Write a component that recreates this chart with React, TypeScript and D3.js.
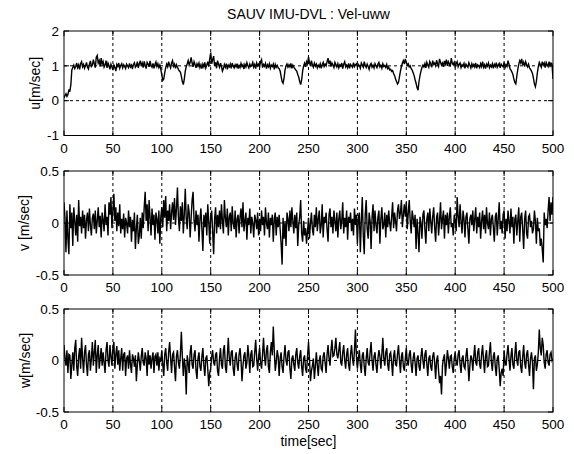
import React from 'react';
import * as d3 from 'd3';

// sampling step of the series below (seconds)
const T_STEP = 1;

const timeTicks = [0, 50, 100, 150, 200, 250, 300, 350, 400, 450, 500];
const uTicks = [-1, 0, 1, 2];
const vwTicks = [-0.5, 0, 0.5];

const uVel = [
  0.08,0.15,0.20,0.12,0.18,0.30,0.28,0.45,0.88,0.95,1.02,0.92,0.98,1.08,0.95,1.03,0.90,1.06,1.12,0.97,
  1.04,0.93,1.00,1.10,0.96,0.91,1.05,1.14,0.98,1.02,1.18,1.06,0.95,1.25,1.30,1.08,1.15,0.98,1.22,1.05,
  1.12,0.96,1.02,1.15,0.94,1.08,1.00,0.90,1.05,0.97,0.88,1.02,0.95,0.85,1.04,0.98,1.08,0.93,1.01,1.06,
  0.94,1.03,0.98,0.92,1.05,1.00,0.95,1.07,0.97,1.02,0.91,1.04,1.09,0.96,1.00,1.12,0.94,1.06,1.15,0.99,
  1.08,0.95,1.13,1.02,0.92,1.10,1.05,0.97,1.14,1.01,0.96,1.07,0.93,1.04,1.11,0.98,1.06,0.95,1.02,0.90,
  0.75,0.58,0.62,0.80,0.95,1.05,0.97,1.12,1.02,0.94,1.08,1.15,0.99,1.05,0.93,1.03,0.96,0.90,0.85,0.82,
  0.70,0.55,0.46,0.62,0.85,0.98,1.06,1.15,1.02,1.10,1.24,1.08,0.97,1.12,1.04,0.94,1.06,0.99,1.08,0.95,
  1.03,0.92,1.05,0.97,1.10,0.94,1.02,1.12,0.98,1.20,1.38,1.06,1.18,1.28,1.00,1.10,0.93,1.15,1.04,0.96,
  1.08,0.98,0.85,0.92,1.04,0.96,1.06,0.90,1.02,0.97,1.05,0.93,1.08,0.99,0.94,1.03,0.97,1.06,0.92,1.01,
  0.95,1.07,0.98,1.03,0.91,1.04,0.97,1.09,1.00,0.94,1.05,0.98,1.02,1.10,0.96,1.04,0.92,1.08,1.00,1.05,
  0.97,1.12,1.18,0.95,1.04,0.99,1.07,0.92,1.03,0.97,1.06,0.93,1.02,0.98,1.05,0.90,1.04,0.96,1.01,0.94,
  0.92,0.85,0.70,0.55,0.50,0.65,0.88,1.00,1.05,0.96,1.03,0.97,1.07,0.93,1.02,0.96,0.92,0.88,0.85,0.75,
  0.68,0.55,0.46,0.60,0.85,1.00,1.08,0.97,1.12,1.05,1.26,1.10,1.00,1.15,1.03,0.96,1.08,0.99,1.05,0.94,
  1.02,0.97,1.06,0.93,1.04,1.10,0.98,1.05,1.00,1.12,1.22,1.05,1.15,0.98,1.08,1.02,0.95,1.10,1.04,0.97,
  1.06,0.94,1.03,0.99,1.08,0.92,1.05,1.12,0.97,1.02,0.95,1.07,0.93,1.04,1.00,0.96,1.09,0.98,1.03,1.06,
  0.97,1.04,1.00,0.93,1.08,1.02,0.96,1.12,1.01,0.95,1.05,0.98,0.90,1.03,1.07,0.96,1.02,0.94,1.06,1.00,
  0.95,1.05,1.10,0.97,1.02,0.93,1.06,0.98,1.01,0.95,1.04,0.92,0.96,0.88,0.90,0.84,0.86,0.78,0.72,0.62,
  0.55,0.48,0.52,0.68,0.85,0.98,1.08,1.15,1.05,1.20,1.10,1.02,1.06,0.97,1.00,0.92,0.88,0.80,0.72,0.60,
  0.50,0.38,0.30,0.55,0.72,0.85,0.95,1.02,0.97,1.06,0.94,1.10,1.02,0.96,1.12,1.05,0.99,1.15,1.04,1.08,
  1.00,1.16,1.05,0.98,1.20,1.10,1.02,1.08,0.97,1.14,1.05,1.18,1.00,1.12,1.06,0.98,1.22,1.08,1.03,1.10,
  0.98,1.06,1.12,0.97,1.04,1.08,0.95,1.03,0.99,1.07,0.93,1.05,1.00,0.96,1.09,1.02,0.94,1.06,0.98,1.04,
  0.97,1.08,0.93,1.03,1.00,0.95,1.06,0.98,1.12,0.96,1.03,0.92,1.05,0.99,1.08,0.95,1.02,0.97,1.06,0.93,
  1.04,0.98,1.09,0.96,1.02,1.07,0.94,1.05,1.00,0.97,1.10,0.95,1.03,0.98,1.15,1.05,0.92,0.88,0.82,0.75,
  0.62,0.52,0.48,0.70,0.90,1.05,1.15,1.08,1.20,1.02,1.10,0.98,1.12,1.04,0.97,1.05,0.94,0.90,0.85,0.78,
  0.65,0.48,0.40,0.55,0.80,0.98,1.10,1.04,0.96,1.12,1.02,1.08,0.95,1.10,1.04,0.98,1.12,1.00,1.08,1.05,
  0.62,
];

const vVel = [
  0.20,0.05,-0.28,0.12,-0.15,-0.30,0.18,-0.05,0.10,-0.22,0.15,0.02,-0.12,0.08,-0.18,0.22,-0.03,0.06,-0.10,0.12,
  -0.05,0.08,-0.15,0.03,0.10,-0.08,0.14,-0.02,-0.12,0.05,0.09,-0.06,0.12,-0.10,0.02,0.15,-0.04,0.07,-0.14,0.10,
  0.03,-0.08,0.18,-0.02,0.06,-0.12,0.20,0.08,0.25,-0.05,0.12,0.28,0.02,0.15,-0.08,0.10,-0.03,0.18,-0.10,0.04,
  -0.06,0.09,-0.14,0.05,0.00,-0.10,0.12,-0.04,0.06,-0.18,0.03,-0.08,0.10,-0.25,-0.05,0.08,-0.20,-0.12,0.05,-0.15,
  0.10,-0.05,0.15,0.30,0.02,0.18,-0.08,0.22,0.05,-0.12,0.14,-0.02,0.08,-0.16,0.10,0.04,-0.10,0.12,-0.20,0.06,
  0.15,-0.04,0.22,0.05,0.26,-0.08,0.12,0.02,0.18,-0.06,0.10,0.20,0.03,0.24,-0.02,0.14,0.34,0.05,-0.08,0.16,
  0.02,0.20,-0.10,0.08,0.33,0.04,-0.06,0.18,0.10,-0.14,0.05,0.22,0.30,0.02,-0.08,0.12,-0.02,0.08,-0.18,0.04,
  0.14,-0.06,-0.27,0.08,-0.04,0.10,-0.12,0.18,0.02,-0.20,0.06,0.12,-0.08,-0.30,0.04,0.15,-0.10,0.08,-0.04,0.12,
  -0.06,0.18,0.02,-0.10,0.22,0.05,-0.04,0.14,-0.12,0.06,0.10,-0.08,0.16,0.00,-0.06,0.12,-0.14,0.04,0.08,-0.10,
  0.06,0.14,-0.04,0.20,-0.08,0.02,0.10,-0.16,0.05,-0.02,0.14,-0.10,0.06,0.00,-0.14,0.08,0.03,-0.06,0.10,-0.12,
  0.04,-0.08,0.12,-0.02,0.06,-0.12,0.15,0.00,-0.06,0.10,-0.14,0.05,-0.02,0.08,-0.18,0.04,0.10,-0.12,0.06,-0.04,
  0.08,-0.06,-0.20,-0.40,0.05,-0.15,0.02,-0.22,0.10,0.04,-0.08,0.12,-0.04,0.15,0.02,-0.10,0.08,-0.05,0.10,-0.22,
  -0.02,0.06,0.22,-0.10,-0.18,0.02,-0.12,-0.05,-0.20,-0.08,0.05,-0.15,0.00,0.10,-0.06,-0.12,0.08,-0.04,0.15,-0.08,
  0.04,0.12,-0.10,-0.02,0.18,-0.14,0.06,0.00,0.10,-0.06,-0.18,0.08,0.14,-0.04,0.06,-0.10,0.12,0.02,-0.08,0.10,
  -0.14,0.04,0.12,-0.06,0.02,0.20,-0.10,0.05,-0.04,0.12,-0.16,0.06,0.00,0.10,-0.08,0.04,-0.12,0.14,-0.02,0.08,
  -0.20,0.05,0.10,-0.28,0.02,0.25,-0.12,-0.30,0.08,0.22,-0.06,-0.15,0.10,0.02,-0.25,0.06,0.18,-0.08,0.12,-0.02,
  -0.10,0.06,0.12,-0.20,0.04,0.15,-0.06,-0.02,0.10,-0.14,0.08,-0.04,0.12,0.00,-0.08,0.06,0.20,-0.05,0.10,0.02,
  -0.08,0.12,0.18,0.04,0.10,0.22,-0.04,0.08,0.18,0.06,0.20,-0.06,0.10,0.22,0.02,-0.10,0.12,0.05,-0.04,0.08,
  -0.25,0.04,-0.10,-0.28,0.06,0.00,-0.15,0.08,0.12,-0.06,-0.20,0.04,0.10,-0.08,0.14,0.02,-0.10,0.06,0.15,-0.04,
  -0.18,0.06,0.10,-0.12,0.02,0.20,-0.06,0.04,0.12,-0.15,0.08,-0.02,0.10,-0.10,0.06,0.15,-0.04,0.00,-0.12,0.08,
  0.02,-0.08,0.25,0.06,-0.04,0.18,0.02,-0.10,0.12,0.04,-0.14,0.06,0.10,-0.06,-0.20,0.04,0.08,-0.02,0.12,-0.08,
  0.04,0.15,-0.10,0.06,-0.04,0.10,-0.15,0.02,0.12,-0.06,0.08,-0.10,0.15,0.00,-0.06,0.10,-0.12,0.04,0.08,-0.04,
  -0.18,0.06,0.10,-0.12,0.04,0.20,-0.06,0.02,-0.10,0.08,0.12,-0.15,0.04,-0.08,0.12,0.02,-0.10,0.14,-0.04,0.06,
  -0.20,0.04,0.08,-0.12,0.02,0.15,-0.18,0.06,0.10,-0.06,-0.25,0.04,0.12,-0.10,-0.15,0.06,0.08,-0.04,0.02,-0.10,
  -0.06,0.12,0.02,-0.20,0.05,-0.08,-0.05,-0.22,-0.15,-0.25,-0.38,0.10,-0.02,0.04,-0.05,0.12,0.25,0.02,0.20,0.08,
  0.25,
];

const wVel = [
  0.15,0.02,-0.05,0.10,-0.12,0.06,0.05,-0.18,-0.04,0.08,-0.10,0.12,0.20,-0.06,-0.15,0.04,0.12,-0.08,0.22,0.02,
  -0.12,0.08,0.15,-0.04,-0.15,0.06,0.10,-0.10,0.02,0.18,-0.05,0.08,0.20,-0.12,0.05,0.15,-0.08,0.02,0.12,-0.05,
  0.08,-0.02,-0.12,0.10,0.18,0.00,-0.06,0.15,0.04,-0.05,0.12,0.18,-0.08,0.06,0.14,-0.04,0.10,-0.10,0.02,0.12,
  -0.10,0.06,0.08,-0.15,0.02,0.05,-0.08,0.10,-0.04,-0.12,0.06,0.02,-0.06,0.05,-0.20,-0.04,0.08,0.00,-0.10,0.04,
  0.12,-0.02,-0.05,0.08,0.02,-0.15,0.10,-0.04,0.05,-0.08,0.02,0.08,-0.12,0.04,0.06,-0.05,0.08,-0.10,0.02,0.00,
  0.10,-0.04,-0.15,0.06,0.12,-0.02,-0.10,0.08,0.18,0.02,-0.12,0.06,0.08,-0.06,-0.20,0.04,0.10,-0.02,-0.08,0.06,
  0.28,0.04,-0.15,0.02,-0.06,-0.33,0.05,-0.02,-0.12,0.08,0.15,-0.04,-0.08,0.06,0.10,-0.10,-0.18,0.02,0.08,-0.06,
  -0.10,0.04,0.12,-0.05,-0.15,0.02,0.05,-0.08,-0.25,-0.12,-0.08,0.04,0.10,-0.02,-0.05,0.06,0.08,-0.10,-0.15,0.02,
  0.12,-0.04,-0.08,0.10,0.15,-0.06,-0.12,0.04,0.22,0.02,-0.05,0.08,0.10,-0.08,-0.15,0.02,0.08,-0.04,-0.10,0.06,
  0.12,0.00,-0.20,-0.05,0.05,0.08,-0.08,-0.02,0.15,0.04,-0.12,0.06,0.10,-0.06,-0.05,0.08,0.20,0.02,-0.10,0.04,
  0.12,-0.02,-0.08,0.06,0.22,0.04,-0.05,0.10,0.15,-0.06,-0.12,0.08,0.18,0.05,0.33,0.10,-0.10,-0.02,0.10,0.04,
  -0.15,0.02,0.08,-0.06,-0.12,0.04,0.15,0.00,-0.05,0.08,0.10,-0.08,-0.18,0.02,0.05,-0.04,-0.10,0.06,0.12,-0.02,
  -0.08,0.04,0.10,-0.06,-0.15,0.02,0.05,-0.08,-0.12,0.04,0.18,0.02,-0.20,-0.10,-0.05,0.02,-0.18,-0.06,0.08,-0.04,
  -0.15,0.00,0.05,-0.08,-0.10,0.04,0.08,-0.02,-0.12,0.06,0.15,0.02,-0.05,0.10,0.20,0.04,0.05,0.12,0.22,0.06,
  0.02,0.10,0.18,-0.02,-0.05,0.08,0.15,0.00,-0.08,0.06,0.12,-0.04,-0.10,0.06,0.15,0.02,-0.05,0.10,0.30,0.04,
  -0.08,0.02,0.10,-0.04,-0.12,0.05,0.08,-0.06,-0.15,0.02,0.12,-0.02,-0.05,0.08,0.18,0.00,-0.10,0.04,0.08,-0.04,
  -0.12,0.02,0.10,0.04,-0.08,0.06,0.22,0.02,-0.05,0.08,0.12,-0.04,-0.10,0.06,0.08,-0.02,-0.15,0.04,0.10,-0.04,
  -0.05,0.06,0.15,0.00,-0.12,0.04,0.08,-0.06,-0.10,0.02,0.12,-0.02,-0.05,0.06,0.10,-0.04,-0.12,0.02,0.08,-0.02,
  -0.15,0.02,0.05,-0.06,-0.10,0.04,0.12,0.00,-0.08,0.06,0.10,-0.04,-0.15,0.02,0.05,-0.06,-0.10,0.04,0.08,-0.02,
  -0.18,0.00,0.05,-0.10,-0.22,-0.15,-0.33,-0.05,0.02,0.06,-0.15,-0.04,0.10,0.02,-0.08,0.04,0.05,-0.06,-0.12,0.02,
  0.08,-0.02,-0.05,0.06,0.10,-0.04,-0.12,0.02,0.05,-0.06,-0.08,0.04,0.12,-0.02,-0.20,-0.05,0.05,0.02,-0.10,0.04,
  0.15,-0.02,-0.05,0.08,0.12,-0.04,-0.08,0.06,0.15,0.00,-0.12,0.04,0.10,-0.06,-0.05,0.08,0.18,-0.02,-0.10,0.04,
  0.08,-0.06,-0.15,0.02,0.05,-0.08,-0.25,-0.12,-0.08,-0.15,0.10,-0.02,-0.05,0.06,0.15,0.02,-0.10,0.04,0.12,-0.04,
  -0.08,0.06,0.18,0.00,-0.05,0.08,0.10,-0.06,-0.12,0.04,0.15,-0.02,-0.08,0.06,0.10,-0.04,-0.15,0.02,0.08,-0.02,
  -0.28,0.02,0.05,-0.10,-0.04,0.08,0.30,0.12,0.05,0.22,0.15,-0.02,-0.08,0.06,0.10,-0.02,-0.05,0.06,0.08,0.00,
  0.02,
];

const W = 574;
const H = 454;
const X0 = 64;
const X1 = 553;
const FONT = "'Liberation Sans', Arial, Helvetica, sans-serif";

const x = d3.scaleLinear().domain([0, 500]).range([X0, X1]);

type PanelProps = {
  id: string;
  values: number[];
  domain: [number, number];
  ticks: number[];
  top: number;
  bottom: number;
  label: string;
  labelX: number;
};

function Panel({ id, values, domain, ticks, top, bottom, label, labelX }: PanelProps) {
  const y = d3.scaleLinear().domain(domain).range([bottom, top]);
  const line = d3
    .line<number>()
    .x((_, i) => x(i * T_STEP))
    .y((d) => y(d));
  const tickLen = 5;
  const innerY = ticks.filter((t) => t !== domain[0] && t !== domain[1]);
  const innerX = timeTicks.filter((t) => t !== 0 && t !== 500);
  return (
    <g>
      <defs>
        <clipPath id={`clip-${id}`}>
          <rect x={X0} y={top} width={X1 - X0} height={bottom - top} />
        </clipPath>
      </defs>
      {innerX.map((t) => (
        <line key={`gx${t}`} x1={x(t)} x2={x(t)} y1={top} y2={bottom}
          stroke="#000" strokeWidth={1} strokeDasharray="3,3" />
      ))}
      {innerY.map((t) => (
        <line key={`gy${t}`} x1={X0} x2={X1} y1={y(t)} y2={y(t)}
          stroke="#000" strokeWidth={1} strokeDasharray="3,3" />
      ))}
      <path d={line(values) || ''} fill="none" stroke="#000" strokeWidth={1.4}
        clipPath={`url(#clip-${id})`} strokeLinejoin="miter" />
      <rect x={X0} y={top} width={X1 - X0} height={bottom - top}
        fill="none" stroke="#000" strokeWidth={1} />
      {timeTicks.map((t) => (
        <g key={`tx${t}`}>
          <line x1={x(t)} x2={x(t)} y1={bottom} y2={bottom - tickLen} stroke="#000" />
          <line x1={x(t)} x2={x(t)} y1={top} y2={top + tickLen} stroke="#000" />
          <text x={x(t)} y={bottom + 17} textAnchor="middle" fontSize={13.5}
            fontFamily={FONT} fill="#000">{String(t)}</text>
        </g>
      ))}
      {ticks.map((t) => (
        <g key={`ty${t}`}>
          <line x1={X0} x2={X0 + tickLen} y1={y(t)} y2={y(t)} stroke="#000" />
          <line x1={X1} x2={X1 - tickLen} y1={y(t)} y2={y(t)} stroke="#000" />
          <text x={X0 - 5} y={y(t)} dy="0.35em" textAnchor="end" fontSize={13.5}
            fontFamily={FONT} fill="#000">{String(t)}</text>
        </g>
      ))}
      <text transform={`translate(${labelX},${(top + bottom) / 2}) rotate(-90)`}
        textAnchor="middle" dy="0.35em" fontSize={14} fontFamily={FONT} fill="#000">
        {label}
      </text>
    </g>
  );
}

export default function App() {
  return (
    <svg width={W} height={H} viewBox={`0 0 ${W} ${H}`}
      style={{ position: 'absolute', left: 0, top: 0, background: '#fff' }}>
      <rect width={W} height={H} fill="#fff" />
      <text x={(X0 + X1) / 2} y={19} textAnchor="middle" fontSize={14}
        fontFamily={FONT} fill="#000">SAUV IMU-DVL : Vel-uww</text>
      <Panel id="u" values={uVel} domain={[-1, 2]} ticks={uTicks}
        top={31} bottom={135.5} label="u[m/sec]" labelX={35} />
      <Panel id="v" values={vVel} domain={[-0.5, 0.5]} ticks={vwTicks}
        top={171} bottom={275} label="v [m/sec]" labelX={24} />
      <Panel id="w" values={wVel} domain={[-0.5, 0.5]} ticks={vwTicks}
        top={309} bottom={412} label="w[m/sec]" labelX={25} />
      <text x={(X0 + X1) / 2} y={446} textAnchor="middle" fontSize={14}
        fontFamily={FONT} fill="#000">time[sec]</text>
    </svg>
  );
}
